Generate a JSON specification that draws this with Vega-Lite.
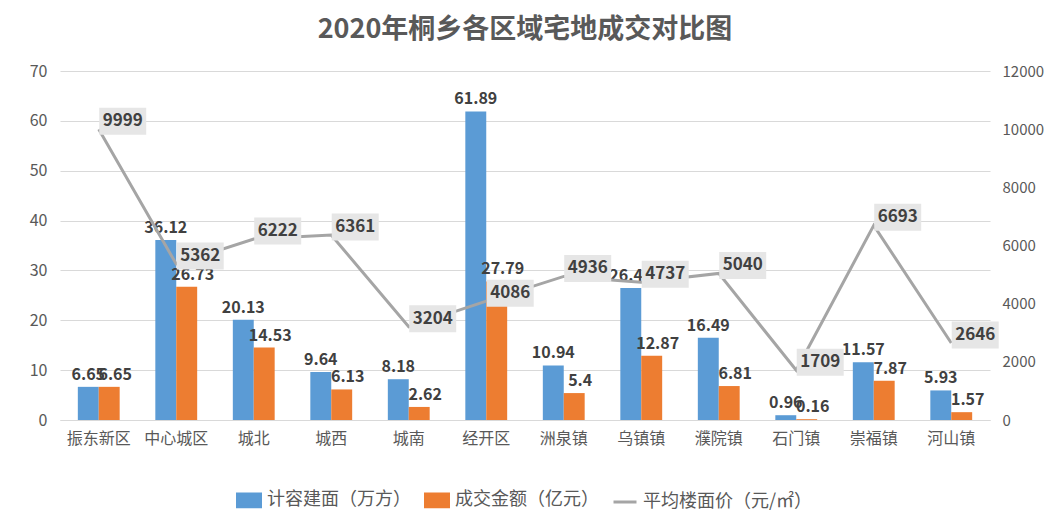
{
  "$schema": "https://vega.github.io/schema/vega-lite/v6.json",
  "width": 930,
  "height": 349,
  "autosize": "none",
  "padding": {"left": 60, "top": 71, "right": 62, "bottom": 107},
  "background": "white",
  "title": {
    "text": "2020年桐乡各区域宅地成交对比图",
    "fontSize": 27,
    "fontWeight": "bold",
    "color": "#595959",
    "anchor": "middle",
    "offset": 19
  },
  "config": {
    "font": "Noto Sans CJK SC",
    "view": {"stroke": null},
    "axis": {"labelColor": "#595959", "gridColor": "#D9D9D9", "domainColor": "#D9D9D9", "ticks": false, "title": null}
  },
  "datasets": {
    "bars": [
      {"区域": "振东新区", "系列": "计容建面（万方）", "值": 6.65},
      {"区域": "振东新区", "系列": "成交金额（亿元）", "值": 6.65},
      {"区域": "中心城区", "系列": "计容建面（万方）", "值": 36.12},
      {"区域": "中心城区", "系列": "成交金额（亿元）", "值": 26.73},
      {"区域": "城北", "系列": "计容建面（万方）", "值": 20.13},
      {"区域": "城北", "系列": "成交金额（亿元）", "值": 14.53},
      {"区域": "城西", "系列": "计容建面（万方）", "值": 9.64},
      {"区域": "城西", "系列": "成交金额（亿元）", "值": 6.13},
      {"区域": "城南", "系列": "计容建面（万方）", "值": 8.18},
      {"区域": "城南", "系列": "成交金额（亿元）", "值": 2.62},
      {"区域": "经开区", "系列": "计容建面（万方）", "值": 61.89},
      {"区域": "经开区", "系列": "成交金额（亿元）", "值": 27.79},
      {"区域": "洲泉镇", "系列": "计容建面（万方）", "值": 10.94},
      {"区域": "洲泉镇", "系列": "成交金额（亿元）", "值": 5.4},
      {"区域": "乌镇镇", "系列": "计容建面（万方）", "值": 26.47},
      {"区域": "乌镇镇", "系列": "成交金额（亿元）", "值": 12.87},
      {"区域": "濮院镇", "系列": "计容建面（万方）", "值": 16.49},
      {"区域": "濮院镇", "系列": "成交金额（亿元）", "值": 6.81},
      {"区域": "石门镇", "系列": "计容建面（万方）", "值": 0.96},
      {"区域": "石门镇", "系列": "成交金额（亿元）", "值": 0.16},
      {"区域": "崇福镇", "系列": "计容建面（万方）", "值": 11.57},
      {"区域": "崇福镇", "系列": "成交金额（亿元）", "值": 7.87},
      {"区域": "河山镇", "系列": "计容建面（万方）", "值": 5.93},
      {"区域": "河山镇", "系列": "成交金额（亿元）", "值": 1.57}
    ],
    "price": [
      {"区域": "振东新区", "均价": 9999},
      {"区域": "中心城区", "均价": 5362},
      {"区域": "城北", "均价": 6222},
      {"区域": "城西", "均价": 6361},
      {"区域": "城南", "均价": 3204},
      {"区域": "经开区", "均价": 4086},
      {"区域": "洲泉镇", "均价": 4936},
      {"区域": "乌镇镇", "均价": 4737},
      {"区域": "濮院镇", "均价": 5040},
      {"区域": "石门镇", "均价": 1709},
      {"区域": "崇福镇", "均价": 6693},
      {"区域": "河山镇", "均价": 2646}
    ]
  },
  "encoding": {
    "x": {
      "field": "区域",
      "type": "nominal",
      "sort": ["振东新区", "中心城区", "城北", "城西", "城南", "经开区", "洲泉镇", "乌镇镇", "濮院镇", "石门镇", "崇福镇", "河山镇"],
      "scale": {"paddingInner": 0.46, "paddingOuter": 0.23},
      "axis": {"labelAngle": 0, "labelFontSize": 16, "labelPadding": 10, "domain": true, "grid": false}
    }
  },
  "layer": [
    {
      "data": {"name": "bars"},
      "encoding": {
        "xOffset": {"field": "系列", "type": "nominal", "sort": ["计容建面（万方）", "成交金额（亿元）"], "scale": {"paddingInner": 0, "paddingOuter": 0}},
        "y": {
          "field": "值",
          "type": "quantitative",
          "scale": {"domain": [0, 70], "nice": false},
          "axis": {"values": [0, 10, 20, 30, 40, 50, 60, 70], "labelFontSize": 16, "labelPadding": 13, "domain": false, "grid": true}
        }
      },
      "layer": [
        {
          "mark": {"type": "bar"},
          "encoding": {
            "color": {
              "field": "系列",
              "type": "nominal",
              "scale": {"domain": ["计容建面（万方）", "成交金额（亿元）", "平均楼面价（元/㎡）"], "range": ["#5B9BD5", "#ED7D31", "#A5A5A5"]},
              "legend": {
                "orient": "none",
                "legendX": 176,
                "legendY": 416,
                "direction": "horizontal",
                "title": null,
                "labelFontSize": 18,
                "labelLimit": 400,
                "labelColor": "#595959",
                "symbolType": "M-1,-0.55H1V0.55H-1Z",
                "symbolSize": 529,
                "symbolOpacity": 1,
                "columnPadding": 8,
                "labelOffset": 5,
                "encode": {
                  "symbols": {
                    "update": {
                      "shape": {"signal": "datum.value === '平均楼面价（元/㎡）' ? 'stroke' : 'M-1,-0.55H1V0.55H-1Z'"},
                      "stroke": {"signal": "datum.value === '平均楼面价（元/㎡）' ? '#A5A5A5' : 'transparent'"},
                      "strokeWidth": {"value": 3}
                    }
                  }
                }
              }
            }
          }
        },
        {
          "transform": [{"filter": "datum['系列'] === '计容建面（万方）'"}],
          "mark": {"type": "text", "baseline": "bottom", "dy": -4, "fontSize": 16, "fontWeight": "bold", "color": "#404040"},
          "encoding": {"text": {"field": "值", "type": "quantitative"}}
        },
        {
          "transform": [{"filter": "datum['系列'] === '成交金额（亿元）'"}],
          "mark": {"type": "text", "baseline": "bottom", "dy": -4, "dx": 6, "fontSize": 16, "fontWeight": "bold", "color": "#404040"},
          "encoding": {"text": {"field": "值", "type": "quantitative"}}
        }
      ]
    },
    {
      "data": {"name": "price"},
      "encoding": {
        "y": {
          "field": "均价",
          "type": "quantitative",
          "scale": {"domain": [0, 12000], "nice": false},
          "axis": {"orient": "right", "values": [0, 2000, 4000, 6000, 8000, 10000, 12000], "format": "d", "labelFontSize": 15, "labelPadding": 12, "domain": false, "grid": false}
        }
      },
      "layer": [
        {
          "mark": {"type": "line", "strokeWidth": 3},
          "encoding": {"color": {"datum": "平均楼面价（元/㎡）"}}
        },
        {
          "mark": {"type": "point", "shape": "M0.02,-0.915H2.02V0.234H0.02Z", "size": 2209, "filled": true, "color": "#E6E6E6", "opacity": 1, "strokeWidth": 0}
        },
        {
          "mark": {"type": "text", "dx": 24, "dy": -8, "fontSize": 17, "fontWeight": "bold", "color": "#404040"},
          "encoding": {"text": {"field": "均价", "type": "quantitative", "format": "d"}}
        }
      ]
    }
  ],
  "resolve": {"scale": {"y": "independent"}}
}
